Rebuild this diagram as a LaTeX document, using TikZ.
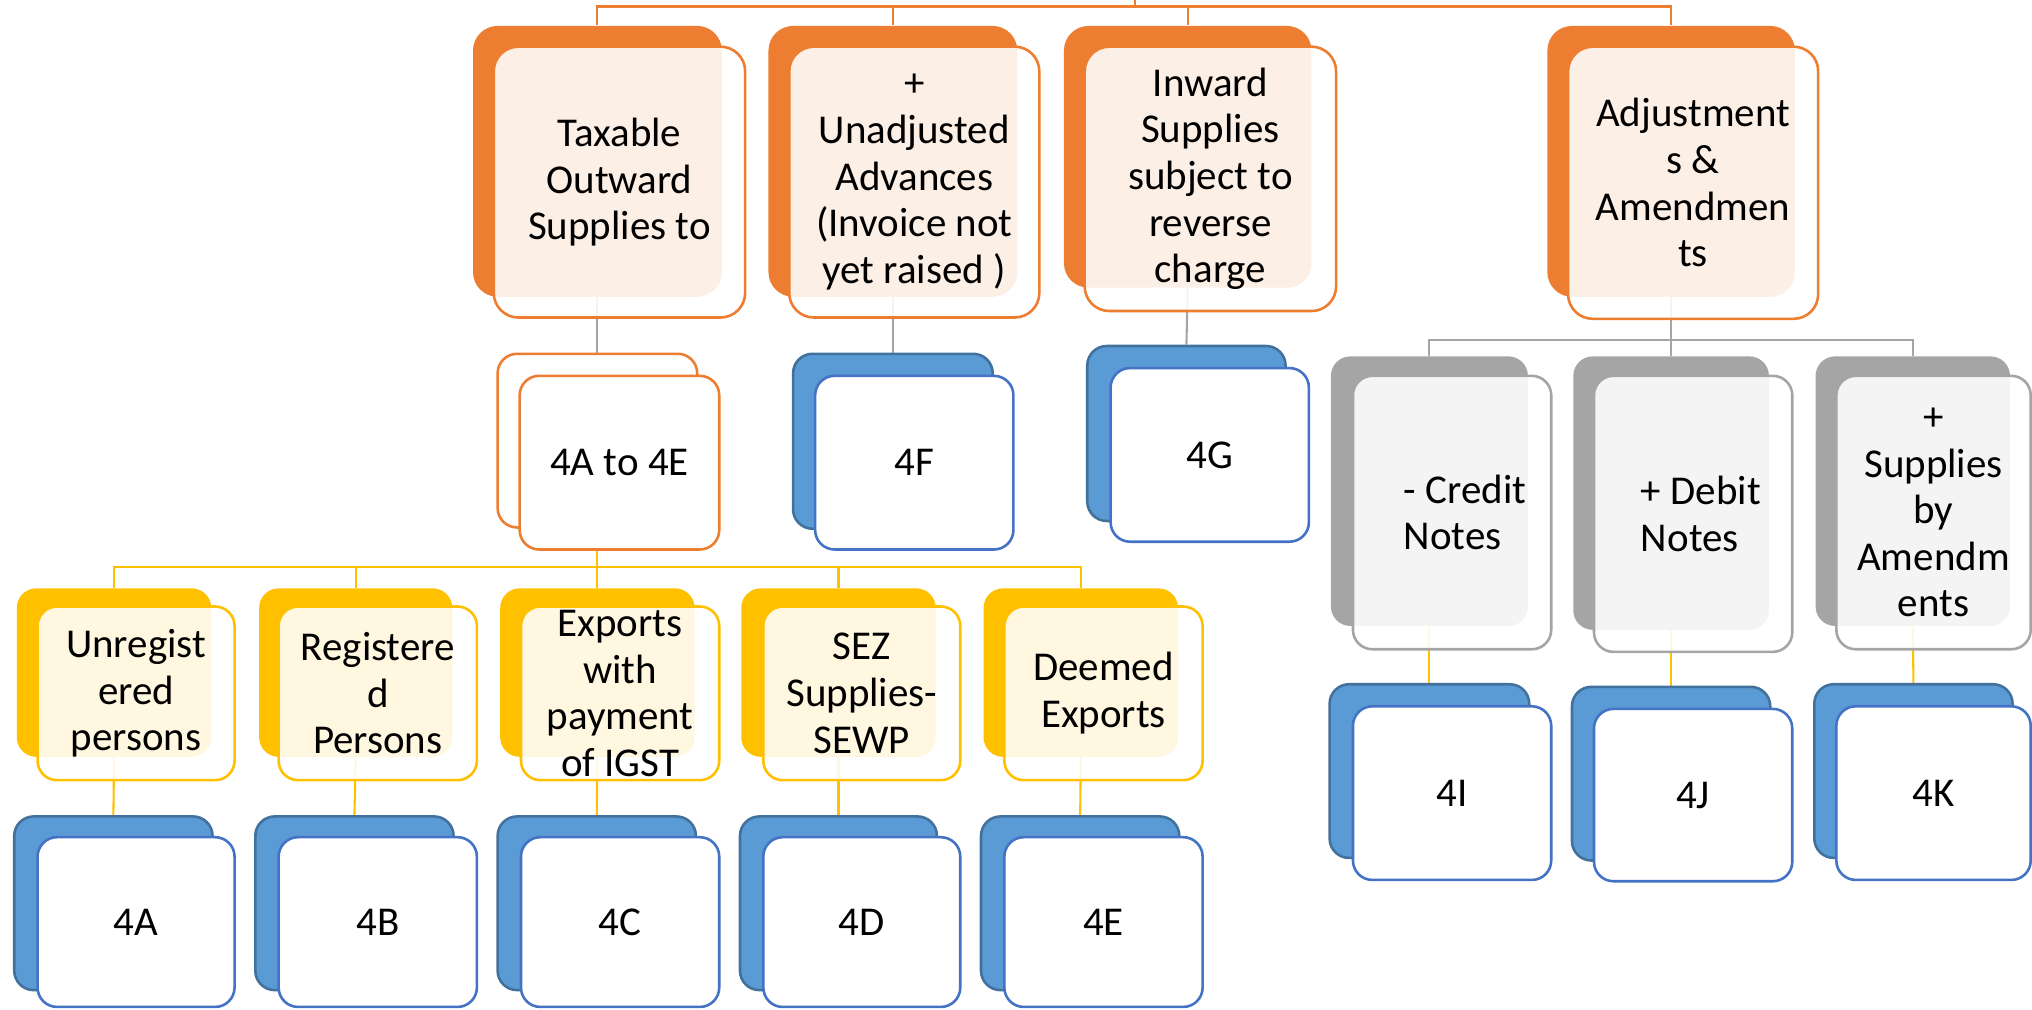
\documentclass[tikz,border=0pt]{standalone}
\usepackage{fontspec}
\setmainfont{Carlito}
\usetikzlibrary{fit,backgrounds}
\definecolor{cOrange}{HTML}{ED7D31}
\definecolor{cYellow}{HTML}{FFC000}
\definecolor{cGrey}{HTML}{A5A5A5}
\definecolor{cBlue}{HTML}{5B9BD5}
\definecolor{cBlueDark}{HTML}{41719C}
\definecolor{cBlueLine}{HTML}{4472C4}
\begin{document}
\begin{tikzpicture}[x=0.5pt,y=-0.5pt,
  back/.style={inner sep=0pt, rounded corners=7.5pt},
  front/.style={inner sep=0pt, rounded corners=7.5pt, line width=1pt},
  ob/.style={back, fill=cOrange, rounded corners=9.5pt},
  of/.style={front, draw=cOrange, fill=white, fill opacity=0.88, rounded corners=9.5pt},
  wb/.style={back, draw=cOrange, fill=white, line width=1pt},
  wf/.style={front, draw=cOrange, fill=white},
  yb/.style={back, fill=cYellow},
  yf/.style={front, draw=cYellow, fill=white, fill opacity=0.88},
  gb/.style={back, fill=cGrey},
  gf/.style={front, draw=cGrey, fill=white, fill opacity=0.88},
  bb/.style={back, draw=cBlueDark, fill=cBlue, line width=1pt},
  bf/.style={front, draw=cBlueLine, fill=white},
  lbl/.style={align=center, inner sep=0pt, font=\fontsize{15.8}{18}\selectfont},
  lbll/.style={lbl, align=left},
  conO/.style={draw=cOrange, line width=0.8pt},
  conG/.style={draw=cGrey, line width=0.8pt},
  conY/.style={draw=cYellow, line width=0.8pt}]
\useasboundingbox (0,0) rectangle (1568,778.6);

% ---- top level: return sections
\node[ob, fit={(365,20)(557,229)}] (taxB) {};
\node[of, fit={(381,36)(575,245)}] (tax) {};
\node[lbl] at (tax) {Taxable\\Outward\\Supplies to};

\node[ob, fit={(593,20)(785,229)}] (advB) {};
\node[of, fit={(609,36)(802,245)}] (adv) {};
\node[lbl] at (adv) {+\\Unadjusted\\Advances\\(Invoice not\\yet raised )};

\node[ob, fit={(821,20)(1012,222)}] (inwB) {};
\node[of, fit={(837,36)(1031,240)}] (inw) {};
\node[lbl] at (inw) {Inward\\Supplies\\subject to\\reverse\\charge};

\node[ob, fit={(1194,20)(1385,229)}] (adjB) {};
\node[of, fit={(1210,36)(1403,246)}] (adj) {};
\node[lbl] at (adj) {Adjustment\\s \&\\Amendmen\\ts};

% ---- second level
\node[wb, fit={(384,273)(538,407)}] (aeB) {};
\node[wf, fit={(401,290)(555,424)}] (ae) {};
\node[lbl] at (ae) {4A to 4E};

\node[bb, fit={(612,273)(766,408)}] (fB) {};
\node[bf, fit={(629,290)(782,424)}] (f) {};
\node[lbl] at (f) {4F};

\node[bb, fit={(839,267)(992,402)}] (gB) {};
\node[bf, fit={(857,284)(1010,418)}] (g) {};
\node[lbl] at (g) {4G};

% ---- adjustments branch
\node[gb, fit={(1027,275)(1179,483)}] (crB) {};
\node[gf, fit={(1044,290)(1197,501)}] (cr) {};
\node[lbll] at ([xshift=5pt]cr.center) {- Credit\\Notes};

\node[gb, fit={(1214,275)(1365,486)}] (dbB) {};
\node[gf, fit={(1230,290)(1383,503)}] (db) {};
\node[lbll] at ([xshift=3pt]db.center) {+ Debit\\Notes};

\node[gb, fit={(1401,275)(1551,483)}] (saB) {};
\node[gf, fit={(1417,290)(1567,501)}] (sa) {};
\node[lbl] at (sa) {+\\Supplies\\by\\Amendm\\ents};

\node[bb, fit={(1026,528)(1180,662)}] (iB) {};
\node[bf, fit={(1044,545)(1197,679)}] (i) {};
\node[lbl] at (i) {4I};

\node[bb, fit={(1213,530)(1366,664)}] (jB) {};
\node[bf, fit={(1230,547)(1383,680)}] (j) {};
\node[lbl] at (j) {4J};

\node[bb, fit={(1400,528)(1553,662)}] (kB) {};
\node[bf, fit={(1417,545)(1567,679)}] (k) {};
\node[lbl] at (k) {4K};

% ---- outward supplies breakdown
\node[yb, fit={(13,454)(163,584)}] (urB) {};
\node[yf, fit={(29,468)(181,602)}] (ur) {};
\node[lbl] at (ur) {Unregist\\ered\\persons};

\node[yb, fit={(200,454)(349,584)}] (rgB) {};
\node[yf, fit={(215,468)(368,602)}] (rg) {};
\node[lbl] at (rg) {Registere\\d\\Persons};

\node[yb, fit={(386,454)(536,584)}] (exB) {};
\node[yf, fit={(402,468)(555,602)}] (ex) {};
\node[lbl] at (ex) {Exports\\with\\payment\\of IGST};

\node[yb, fit={(572,454)(722,584)}] (szB) {};
\node[yf, fit={(589,468)(741,602)}] (sz) {};
\node[lbl] at (sz) {SEZ\\Supplies-\\SEWP};

\node[yb, fit={(759,454)(909,584)}] (deB) {};
\node[yf, fit={(775,468)(928,602)}] (de) {};
\node[lbl] at (de) {Deemed\\Exports};

\node[bb, fit={(11,630)(164,764)}] (aB) {};
\node[bf, fit={(29,646)(181,777)}] (a) {};
\node[lbl] at (a) {4A};

\node[bb, fit={(197,630)(350,764)}] (bB) {};
\node[bf, fit={(215,646)(368,777)}] (b) {};
\node[lbl] at (b) {4B};

\node[bb, fit={(384,630)(537,764)}] (cB) {};
\node[bf, fit={(402,646)(555,777)}] (c) {};
\node[lbl] at (c) {4C};

\node[bb, fit={(571,630)(723,764)}] (dB) {};
\node[bf, fit={(589,646)(741,777)}] (d) {};
\node[lbl] at (d) {4D};

\node[bb, fit={(757,630)(910,764)}] (eB) {};
\node[bf, fit={(775,646)(928,777)}] (e) {};
\node[lbl] at (e) {4E};

% ---- connectors, kept behind the boxes
\begin{pgfonlayer}{background}
\coordinate (root) at (876,-20);
\coordinate (barTop) at (0,5);
\coordinate (barAdj) at (0,262);
\coordinate (barOut) at (0,437.5);
\draw[conO] (root) -- (root |- barTop);
\foreach \n in {taxB,advB,inwB,adjB}
  \draw[conO] (root |- barTop) -| (\n.north);
\draw[conG] (taxB.south) -- (aeB.north);
\draw[conG] (advB.south) -- (fB.north);
\draw[conG] (inwB.south) -- (gB.north);
\draw[conG] (adjB.south) -- (adjB.south |- barAdj);
\foreach \n in {crB,dbB,saB}
  \draw[conG] (adjB.south |- barAdj) -| (\n.north);
\draw[conY] (crB.south) -- (iB.north);
\draw[conY] (dbB.south) -- (jB.north);
\draw[conY] (saB.south) -- (kB.north);
\draw[conY] (aeB.south) -- (aeB.south |- barOut);
\foreach \n in {urB,rgB,exB,szB,deB}
  \draw[conY] (aeB.south |- barOut) -| (\n.north);
\draw[conY] (urB.south) -- (aB.north);
\draw[conY] (rgB.south) -- (bB.north);
\draw[conY] (exB.south) -- (cB.north);
\draw[conY] (szB.south) -- (dB.north);
\draw[conY] (deB.south) -- (eB.north);
\end{pgfonlayer}
\end{tikzpicture}
\end{document}
